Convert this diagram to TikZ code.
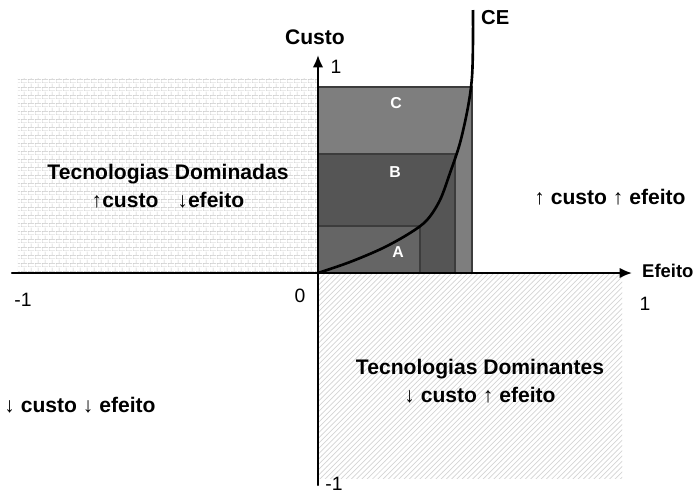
\documentclass[tikz,border=0pt]{standalone}
\usepackage{fontspec}
\setmainfont{Liberation Sans}
\usepackage{tkz-euclide}
\usetikzlibrary{patterns,arrows.meta}

\definecolor{boxC}{HTML}{7E7E7E}
\definecolor{boxB}{HTML}{555555}
\definecolor{boxA}{HTML}{656565}
\definecolor{boxline}{HTML}{3C3C3C}
\definecolor{hatch}{HTML}{C4C4C4}
\definecolor{hatchlight}{HTML}{D4D4D4}

\pgfdeclarepatternformonly{finebricks}{\pgfpointorigin}{\pgfqpoint{4pt}{4.6pt}}{\pgfqpoint{4pt}{4.6pt}}{
  \pgfsetlinewidth{0.35pt}
  \pgfpathmoveto{\pgfqpoint{0pt}{0pt}}\pgfpathlineto{\pgfqpoint{4pt}{0pt}}
  \pgfpathmoveto{\pgfqpoint{0pt}{2.3pt}}\pgfpathlineto{\pgfqpoint{4pt}{2.3pt}}
  \pgfpathmoveto{\pgfqpoint{0pt}{0pt}}\pgfpathlineto{\pgfqpoint{0pt}{2.3pt}}
  \pgfpathmoveto{\pgfqpoint{2pt}{2.3pt}}\pgfpathlineto{\pgfqpoint{2pt}{4.6pt}}
  \pgfusepath{stroke}}

\tikzset{
  axis/.style={line width=1.2pt,-{Latex[length=7pt,width=6pt]}},
  regiontext/.style={font=\fontsize{12}{16}\selectfont\bfseries,align=center},
  ticktext/.style={font=\fontsize{11}{13}\selectfont},
  boxtext/.style={font=\fontsize{9}{11}\selectfont\bfseries,text=white}
}

\begin{document}
\begin{tikzpicture}
\useasboundingbox (-6.36,-4.4) rectangle (7.64,5.46);
\tkzDefPoint(0,0){ZERO}



\tkzDefPoint(-6.0,3.9){tL}
\tkzDefPoint(6.08,-4.1){tR}
  \fill[pattern=finebricks,pattern color=hatch] (tL) rectangle (ZERO);
  \fill[pattern=north east lines,pattern color=hatchlight] (ZERO) rectangle (tR);



\tkzDefPoint(3.08,3.72){cC}
\tkzDefPoint(2.74,2.38){cB}
\tkzDefPoint(2.04,0.94){cA}

  \filldraw[fill=boxC,draw=boxline,line width=.6pt] (ZERO) rectangle (cC);
  \filldraw[fill=boxB,draw=boxline,line width=.6pt] (ZERO) rectangle (cB);
  \filldraw[fill=boxA,draw=boxline,line width=.6pt] (ZERO) rectangle (cA);



\tkzDefPoint(-6.12,0){E}
\tkzDefPoint(6.28,0){B}
\tkzDefPoint(0,4.36){C}
\tkzDefPoint(0,-4.24){D}

  \tkzDrawSegment[axis](E,B)
\tkzDrawSegment[axis](D,C)



  \draw[line width=1.5pt] plot[smooth,tension=.55] coordinates {(0,0) (0.64,0.22) (1.3,0.5) (1.84,0.8) (2.18,1.06) (2.44,1.46) (2.64,2.0) (2.84,2.6) (3.0,3.32) (3.08,3.92) (3.1,4.66) (3.1,5.26)};
  \tkzDefPoint(3.14,5.1){tCE}
\node[anchor=west,font=\fontsize{11.5}{13}\selectfont\bfseries] (lblCE) at (tCE) {CE};



\node[boxtext] (lblA) at (1.6,0.42) {A};
\node[boxtext] (lblB) at (1.54,2.02) {B};
\node[boxtext] (lblC) at (1.56,3.4) {C};



\node[regiontext] (dominadas) at (-3.0,1.74) {Tecnologias Dominadas\\↑custo\hspace{0.9em}↓efeito};
\node[regiontext] (dominantes) at (3.24,-2.16) {Tecnologias Dominantes\\↓ custo ↑ efeito};
\node[regiontext] (upup) at (5.84,1.52) {↑ custo ↑ efeito};
\node[regiontext] (downdown) at (-4.76,-2.64) {↓ custo ↓ efeito};


\node[regiontext] (custo) at (-0.06,4.72) {Custo};
\node[anchor=west,font=\fontsize{10.5}{13}\selectfont\bfseries] (efeito) at (6.36,0.04) {Efeito};

\node[ticktext] (ytop) at (0.36,4.12) {1};
\node[ticktext] (ybot) at (0.32,-4.22) {-1};
\node[ticktext] (xzero) at (-0.36,-0.46) {0};
\node[ticktext] (xleft) at (-5.9,-0.54) {-1};
\node[ticktext] (xright) at (6.54,-0.62) {1};

\end{tikzpicture}
\end{document}
